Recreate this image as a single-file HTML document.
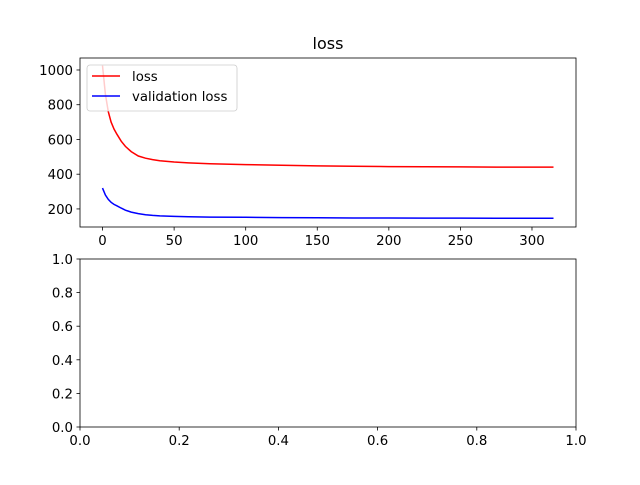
<!DOCTYPE html>
<html><head><meta charset="utf-8"><style>
body{margin:0;background:#fff;}
svg text{font-family:"DejaVu Sans","Liberation Sans",sans-serif;font-size:13.3px;fill:#000;}
</style></head><body>
<svg id="c" width="640" height="480" xmlns="http://www.w3.org/2000/svg"></svg>
<script>
const epochs=[0,2,4,6,8,10,13,16,20,25,30,35,40,50,60,75,100,125,150,175,200,225,250,275,300,315];
const lossVals=[1025,860,760,700,660,630,590,560,530,505,492,484,478,470,465,460,455,451,448,446,444,443,442,441,441,441];
const valVals=[320,280,255,238,226,218,205,193,182,173,167,163,160,157,155,153,152,150,149,148,148,147,147,146,146,146];
const xTicks=[0,50,100,150,200,250,300];
const yTicks=[200,400,600,800,1000];
const y2Ticks=[0.0,0.2,0.4,0.6,0.8,1.0];
const x2Ticks=[0.0,0.2,0.4,0.6,0.8,1.0];

const NS="http://www.w3.org/2000/svg";
const svg=document.getElementById('c');
function mk(t,a,p){const e=document.createElementNS(NS,t);for(const k in a)e.setAttribute(k,a[k]);(p||svg).appendChild(e);return e;}
const L=80,R=576,T1=58,B1=227,T2=259,B2=427;
const xmin=-15.75,xmax=330.75,ymin=96,ymax=1069;
const sx=v=>L+(v-xmin)/(xmax-xmin)*(R-L);
const sy=v=>B1-(v-ymin)/(ymax-ymin)*(B1-T1);
const sx2=v=>L+v*(R-L), sy2=v=>B2-v*(B2-T2);

let t=mk('text',{x:328,y:49,'text-anchor':'middle','style':'font-size:16px'});t.textContent='loss';



function line(xs,ys,color,name){
  const d=xs.map((x,i)=>(i?'L':'M')+sx(x).toFixed(1)+','+sy(ys[i]).toFixed(1)).join(' ');
  const p=mk('path',{d:d,fill:'none',stroke:color,'stroke-width':1.5});
  
  
}
line(epochs,lossVals,'#ff0000','loss-line');
line(epochs,valVals,'#0000ff','validation-loss-line');

function frame(T,B,name){const r=mk('rect',{x:L,y:T,width:R-L,height:B-T,fill:'none',stroke:'#000','stroke-width':0.8});

}
frame(T1,B1,'top-axes-frame');frame(T2,B2,'bottom-axes-frame');

xTicks.forEach(v=>{const x=sx(v);mk('line',{x1:x,x2:x,y1:B1,y2:B1+3.5,stroke:'#000','stroke-width':0.8});
 const e=mk('text',{x:x,y:B1+18,'text-anchor':'middle'});e.textContent=v;
 
 });
yTicks.forEach(v=>{const y=sy(v);mk('line',{x1:L,x2:L-3.5,y1:y,y2:y,stroke:'#000','stroke-width':0.8});
 const e=mk('text',{x:L-7,y:y+5,'text-anchor':'end'});e.textContent=v;
 
 });
x2Ticks.forEach(v=>{const x=sx2(v);mk('line',{x1:x,x2:x,y1:B2,y2:B2+3.5,stroke:'#000','stroke-width':0.8});
 const e=mk('text',{x:x,y:B2+18,'text-anchor':'middle'});e.textContent=v.toFixed(1);
 
 });
y2Ticks.forEach(v=>{const y=sy2(v);mk('line',{x1:L,x2:L-3.5,y1:y,y2:y,stroke:'#000','stroke-width':0.8});
 const e=mk('text',{x:L-7,y:y+5,'text-anchor':'end'});e.textContent=v.toFixed(1);
 
 });

const g=mk('g',{});


mk('rect',{x:87,y:65,width:150,height:46,rx:3,fill:'#fff','fill-opacity':0.8,stroke:'#ccc','stroke-width':0.8},g);
mk('line',{x1:92,x2:120,y1:76,y2:76,stroke:'#ff0000','stroke-width':1.5},g);
mk('line',{x1:92,x2:120,y1:96,y2:96,stroke:'#0000ff','stroke-width':1.5},g);
let a=mk('text',{x:132,y:81},g);a.textContent='loss';
let b=mk('text',{x:132,y:101},g);b.textContent='validation loss';
</script>
</body></html>
